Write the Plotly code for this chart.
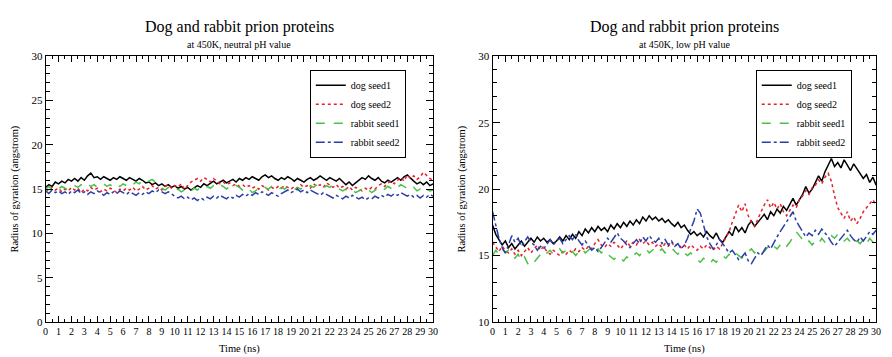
import plotly.graph_objects as go

time_ns = [i * 0.25 for i in range(121)]

neutral_dog_seed1 = [15.2, 15.5, 15.3, 15.8, 15.6,
    15.9, 15.7, 16.1, 15.9, 16.2, 15.9, 16.3, 16.0, 16.5, 16.8, 16.3, 16.4,
    16.1, 16.4, 16.2, 16.0, 16.3, 16.1, 16.4, 16.2, 16.0, 16.3, 16.1, 15.9,
    16.2, 16.0, 15.7, 15.8, 15.5, 15.7, 15.4, 15.6, 15.3, 15.5, 15.2, 15.4,
    15.1, 15.3, 15.0, 15.2, 14.9, 15.2, 15.4, 15.2, 15.6, 15.4, 15.7, 15.9,
    15.6, 15.8, 16.0, 15.7, 15.9, 16.1, 15.8, 16.2, 16.0, 16.3, 16.1, 16.4,
    16.2, 16.0, 16.4, 16.6, 16.3, 16.5, 16.2, 16.0, 16.3, 16.1, 16.4, 16.2,
    15.9, 16.2, 16.0, 15.8, 16.1, 16.3, 16.0, 16.2, 16.5, 16.2, 16.0, 16.3,
    16.1, 15.9, 16.2, 15.8, 15.5, 15.8, 15.4, 15.7, 16.0, 16.3, 16.1, 16.5,
    16.2, 16.0, 16.3, 15.9, 15.7, 16.0, 15.8, 16.1, 16.3, 16.0, 16.4, 16.6,
    16.2, 15.9, 15.6, 15.8, 15.5, 15.8, 15.4, 15.6]
neutral_dog_seed2 = [15.0, 14.8, 15.2, 14.9, 15.1,
    14.7, 15.0, 14.8, 15.2, 14.9, 15.1, 14.6, 15.0, 14.8, 15.2, 14.9, 15.1,
    14.7, 15.0, 14.8, 15.1, 14.9, 14.6, 15.0, 14.8, 15.1, 14.9, 15.2, 14.8,
    15.0, 15.3, 14.9, 15.1, 15.4, 15.0, 15.2, 14.9, 15.3, 15.5, 15.1, 15.4,
    15.2, 15.6, 15.0, 15.4, 15.8, 16.0, 16.2, 15.9, 16.3, 16.1, 15.8, 16.2,
    15.9, 15.6, 15.8, 15.5, 15.7, 15.4, 15.6, 15.3, 15.5, 15.2, 15.4, 15.1,
    15.3, 15.0, 15.4, 15.2, 14.9, 15.2, 15.0, 15.3, 15.1, 15.4, 15.2, 15.0,
    15.3, 15.1, 15.5, 15.2, 15.4, 15.1, 15.6, 15.3, 15.5, 15.2, 15.7, 15.4,
    15.2, 15.5, 15.1, 15.3, 15.0, 15.3, 14.9, 15.2, 15.0, 14.8, 15.1, 14.9,
    15.2, 15.0, 15.4, 15.6, 15.3, 15.7, 15.9, 15.6, 16.0, 16.3, 15.9, 16.6,
    16.2, 16.5, 16.1, 16.4, 16.9, 16.5, 16.2, 16.0]
neutral_rabbit_seed1 = [15.0, 15.3, 14.9, 15.2, 15.0,
    15.3, 15.1, 14.9, 15.2, 15.4, 15.2, 15.5, 15.3, 15.6, 15.3, 15.5, 15.2,
    15.4, 15.6, 15.3, 15.5, 15.2, 15.5, 15.3, 15.6, 15.4, 15.7, 15.5, 15.8,
    15.6, 16.0, 15.7, 15.9, 16.1, 15.8, 15.4, 15.1, 14.9, 15.2, 15.0, 14.8,
    15.0, 14.7, 14.9, 14.6, 14.8, 15.1, 14.9, 15.2, 15.0, 15.3, 15.1, 15.4,
    15.2, 15.5, 15.3, 15.0, 15.3, 15.1, 15.4, 15.2, 14.9, 14.7, 15.0, 14.6,
    14.8, 15.1, 14.9, 15.2, 15.0, 15.3, 15.1, 14.9, 15.2, 15.0, 15.3, 15.1,
    14.9, 15.2, 15.0, 15.3, 15.1, 15.4, 15.2, 15.5, 15.3, 15.1, 15.4, 15.2,
    15.5, 15.2, 15.0, 14.8, 15.0, 14.7, 14.9, 14.6, 14.8, 15.0, 14.7, 14.9,
    14.6, 14.9, 15.1, 14.8, 15.0, 15.3, 15.1, 15.4, 15.2, 15.5, 15.3, 15.1,
    14.9, 15.2, 14.8, 15.0, 14.7, 15.0, 14.8, 14.9]
neutral_rabbit_seed2 = [14.8, 14.5, 14.9, 14.6, 14.8,
    14.5, 14.7, 14.4, 14.8, 14.6, 14.9, 14.5, 14.7, 14.4, 14.7, 14.5, 14.8,
    14.6, 14.3, 14.6, 14.4, 14.7, 14.5, 14.8, 14.6, 14.4, 14.7, 14.5, 14.3,
    14.6, 14.4, 14.7, 14.5, 14.8, 14.6, 14.9, 14.7, 14.5, 14.7, 14.4, 14.2,
    14.0, 14.2, 13.9, 14.1, 13.8, 14.0, 13.7, 14.0, 13.8, 14.1, 13.9, 14.2,
    14.0, 14.3, 14.1, 13.9, 14.2, 14.0, 14.3, 14.1, 14.4, 14.2, 14.5, 14.3,
    14.6, 14.4, 14.7, 14.5, 14.3, 14.6, 14.4, 14.2, 14.5, 14.7, 14.9, 14.6,
    14.8, 15.0, 14.7, 14.9, 14.6, 14.9, 14.7, 14.5, 14.3, 14.6, 14.4, 14.2,
    14.0, 14.3, 14.1, 13.9, 14.2, 14.0, 14.3, 14.1, 13.9, 14.1, 13.8, 14.0,
    13.9, 14.2, 14.0, 14.3, 14.1, 14.4, 14.2, 14.5, 14.3, 14.6, 14.4, 14.2,
    14.4, 14.1, 14.3, 14.0, 14.3, 14.1, 14.4, 14.2]

low_dog_seed1 = [17.3, 16.6, 16.2, 15.8, 16.1,
    15.6, 15.9, 15.5, 15.8, 16.1, 15.7, 16.0, 16.3, 16.0, 16.4, 16.1, 16.3,
    16.0, 16.2, 15.9, 16.1, 16.4, 16.1, 16.5, 16.2, 16.6, 16.3, 16.8, 16.5,
    17.0, 16.7, 17.1, 16.8, 17.2, 16.9, 17.1, 16.8, 17.3, 17.0, 17.4, 17.1,
    17.5, 17.2, 17.6, 17.3, 17.7, 17.4, 17.9, 17.6, 18.0, 17.7, 17.9, 17.6,
    17.8, 17.5, 17.7, 17.4, 17.2, 17.5, 17.1, 17.3, 16.9, 16.6, 16.8, 16.5,
    16.7, 16.4, 16.8, 16.5, 16.3, 16.7, 16.2, 16.0, 16.4, 16.8, 16.5, 17.2,
    16.8, 17.1, 16.7, 17.3, 17.6, 17.2, 17.5, 17.8, 18.1, 17.7, 18.3, 18.0,
    18.5, 18.2, 18.7, 18.4, 18.9, 19.3, 18.8, 19.2, 19.6, 20.2, 19.7, 20.0,
    20.5, 21.0, 20.6, 21.3, 21.8, 22.3, 21.7, 22.0, 21.6, 22.2, 21.8, 21.4,
    21.9, 21.5, 21.2, 20.8, 21.1, 20.5, 20.9, 20.3]
low_dog_seed2 = [16.0, 15.6, 15.3, 15.7, 15.4,
    15.2, 15.5, 15.1, 15.4, 15.0, 15.3, 15.6, 15.2, 15.5, 15.8, 15.4, 15.7,
    15.3, 15.1, 15.4, 15.2, 15.0, 15.3, 15.1, 15.4, 15.2, 15.5, 15.3, 15.6,
    15.4, 15.7, 15.5, 15.9, 16.2, 15.8, 15.6, 15.9, 15.7, 16.0, 15.8, 15.5,
    15.8, 16.1, 15.7, 16.0, 15.8, 16.2, 15.9, 16.1, 15.8, 16.0, 15.7, 15.9,
    15.6, 15.9, 15.7, 16.0, 15.7, 15.9, 15.6, 15.8, 15.5, 15.8, 15.6, 15.4,
    15.7, 15.5, 15.8, 15.6, 15.4, 15.7, 15.5, 15.9, 16.3, 16.8, 17.5, 18.2,
    18.8, 18.3, 18.9, 18.0, 17.5, 17.2, 17.8, 18.3, 18.8, 19.2, 18.6, 19.0,
    18.5, 18.9, 18.3, 18.0, 18.4, 18.8, 18.6, 19.2, 19.5, 19.9, 19.6, 20.1,
    20.3, 20.7, 20.4, 20.9, 21.2, 20.6, 19.5, 18.6, 18.2, 17.8, 18.3, 17.6,
    17.9, 17.4, 17.8, 18.3, 18.6, 18.9, 19.2, 18.8]
low_rabbit_seed1 = [15.0, 15.4, 15.1, 15.5, 15.2,
    15.4, 15.0, 14.8, 15.1, 14.6, 14.9, 14.4, 14.2, 14.5, 14.8, 15.1, 14.9,
    15.2, 15.4, 15.1, 15.3, 15.5, 15.2, 15.4, 15.1, 15.3, 15.0, 15.3, 15.5,
    15.2, 15.4, 15.6, 15.3, 15.5, 15.2, 15.4, 15.1, 14.9, 14.7, 15.0, 14.8,
    14.6, 14.9, 14.7, 15.0, 15.2, 15.0, 15.3, 15.5, 15.2, 15.4, 15.6, 15.3,
    15.5, 15.2, 15.4, 15.6, 15.3, 15.1, 15.4, 15.2, 15.0, 15.2, 14.9, 14.7,
    14.5, 14.8, 14.6, 14.4, 14.7, 14.5, 14.8, 15.0, 14.8, 15.1, 14.9, 15.2,
    15.0, 14.8, 15.1, 15.3, 15.5, 15.2, 15.4, 15.1, 15.3, 15.6, 15.4, 15.7,
    15.5, 15.8, 16.0, 15.7, 16.0, 16.4, 16.8, 16.5, 16.2, 15.9, 16.1, 15.8,
    16.1, 15.9, 16.3, 16.0, 16.2, 16.5, 16.3, 16.6, 16.4, 16.1, 16.3, 16.0,
    15.8, 16.1, 15.9, 16.2, 15.9, 16.3, 16.0, 16.2]
low_rabbit_seed2 = [18.3, 17.2, 16.3, 15.6, 15.2,
    15.8, 16.5, 16.0, 16.3, 15.7, 16.1, 16.4, 16.0, 15.8, 15.4, 15.7, 15.5,
    15.9, 16.2, 15.8, 16.1, 16.3, 15.9, 16.2, 16.5, 16.2, 16.6, 16.1, 15.8,
    16.1, 15.7, 15.4, 15.6, 15.3, 15.6, 16.0, 16.3, 16.0, 16.4, 16.7, 16.3,
    16.1, 15.8, 15.6, 15.9, 16.2, 15.9, 16.4, 16.1, 16.5, 16.2, 16.0, 16.3,
    15.9, 16.2, 15.8, 16.1, 15.7, 15.9, 15.5, 15.8, 16.3, 17.0, 17.6, 18.5,
    18.2, 17.3, 16.4, 15.9, 15.5, 15.8, 16.2, 15.9, 15.5, 15.2, 15.4, 15.0,
    14.7, 14.9, 15.2, 14.6, 14.4, 14.8, 15.2, 15.0, 15.4, 15.8, 15.5, 16.0,
    16.4, 16.8, 17.2, 17.6, 18.0, 18.3, 17.6, 17.2, 16.8, 16.4, 16.7, 16.5,
    16.9, 16.6, 17.0, 16.7, 16.4, 16.0, 15.7, 16.0, 16.3, 16.6, 16.9, 16.5,
    16.2, 16.0, 16.4, 16.1, 16.5, 16.8, 16.6, 16.9]

series_names = ["dog seed1", "dog seed2", "rabbit seed1", "rabbit seed2"]
x_tick_labels = [str(i) for i in range(31)]

colors = ["#000000", "#e8202a", "#4cbf45", "#2a3ea8"]
dashes = ["solid", "dot", "dash", "dashdot"]

FONT = "Liberation Serif, Times New Roman, serif"

fig = go.Figure()
left = [neutral_dog_seed1, neutral_dog_seed2, neutral_rabbit_seed1, neutral_rabbit_seed2]
right = [low_dog_seed1, low_dog_seed2, low_rabbit_seed1, low_rabbit_seed2]
for i, (name, ys) in enumerate(zip(series_names, left)):
    fig.add_trace(go.Scatter(x=time_ns, y=ys, mode="lines", name=name,
                             line=dict(color=colors[i], width=1.5, dash=dashes[i]),
                             xaxis="x", yaxis="y", legend="legend"))
for i, (name, ys) in enumerate(zip(series_names, right)):
    fig.add_trace(go.Scatter(x=time_ns, y=ys, mode="lines", name=name,
                             line=dict(color=colors[i], width=1.5, dash=dashes[i]),
                             xaxis="x2", yaxis="y2", legend="legend2"))

W, H = 892, 357
ydom = [1 - 327 / H, 1 - 52 / H]
xdom1 = [43 / W, 434 / W]
xdom2 = [494 / W, 881 / W]

common_x = dict(range=[0, 30], tickmode="array", tickvals=list(range(31)),
                ticktext=x_tick_labels, tickangle=0, ticks="inside", ticklen=6, tickwidth=1,
                tickcolor="black", showline=True, linecolor="black", linewidth=1,
                mirror="allticks", showgrid=False, zeroline=False,
                minor=dict(dtick=0.5, tick0=0, ticks="inside", ticklen=3, tickcolor="black", showgrid=False),
                tickfont=dict(family=FONT, size=10, color="black"),
                title=dict(text="Time (ns)", font=dict(family=FONT, size=10.5, color="black"), standoff=8))
common_y = dict(ticks="inside", ticklen=7, tickwidth=1, tickcolor="black",
                showline=True, linecolor="black", linewidth=1, mirror="allticks",
                showgrid=False, zeroline=False, dtick=5,
                minor=dict(dtick=1, ticks="inside", ticklen=4, tickcolor="black", showgrid=False),
                tickfont=dict(family=FONT, size=11, color="black"),
                title=dict(text="Radius of gyration (angstrom)", font=dict(family=FONT, size=10.5, color="black"), standoff=10))

legend_common = dict(xanchor="center", yanchor="top", bgcolor="rgba(255,255,255,0)",
                     bordercolor="black", borderwidth=1, itemwidth=30,
                     font=dict(family=FONT, size=10, color="black"),
                     tracegroupgap=0, itemclick=False)

fig.update_layout(
    width=W, height=H, margin=dict(l=0, r=0, t=0, b=0),
    paper_bgcolor="white", plot_bgcolor="white",
    font=dict(family=FONT, color="black"),
    xaxis=dict(domain=xdom1, anchor="y", **common_x),
    yaxis=dict(domain=ydom, anchor="x", range=[0, 30], tick0=0, **common_y),
    xaxis2=dict(domain=xdom2, anchor="y2", **common_x),
    yaxis2=dict(domain=ydom, anchor="x2", range=[10, 30], tick0=10, **common_y),
    legend=dict(x=358 / W, y=1 - 66 / H, **legend_common),
    legend2=dict(x=808 / W, y=1 - 66 / H, **legend_common),
    showlegend=True,
    annotations=[
        dict(text="Dog and rabbit prion proteins", x=(xdom1[0] + xdom1[1]) / 2, y=1 - 22 / H,
             xanchor="center", yanchor="middle",
             xref="paper", yref="paper", showarrow=False, font=dict(family=FONT, size=16, color="black")),
        dict(text="at 450K, neutral pH value", x=(xdom1[0] + xdom1[1]) / 2, y=1 - 40 / H,
             xanchor="center", yanchor="middle",
             xref="paper", yref="paper", showarrow=False, font=dict(family=FONT, size=10, color="black")),
        dict(text="Dog and rabbit prion proteins", x=(xdom2[0] + xdom2[1]) / 2, y=1 - 22 / H,
             xanchor="center", yanchor="middle",
             xref="paper", yref="paper", showarrow=False, font=dict(family=FONT, size=16, color="black")),
        dict(text="at 450K, low pH value", x=(xdom2[0] + xdom2[1]) / 2, y=1 - 40 / H,
             xanchor="center", yanchor="middle",
             xref="paper", yref="paper", showarrow=False, font=dict(family=FONT, size=10, color="black")),
    ],
)

fig.write_html("out.html", config={"displayModeBar": False},
               post_script="document.body.style.margin='0';")
